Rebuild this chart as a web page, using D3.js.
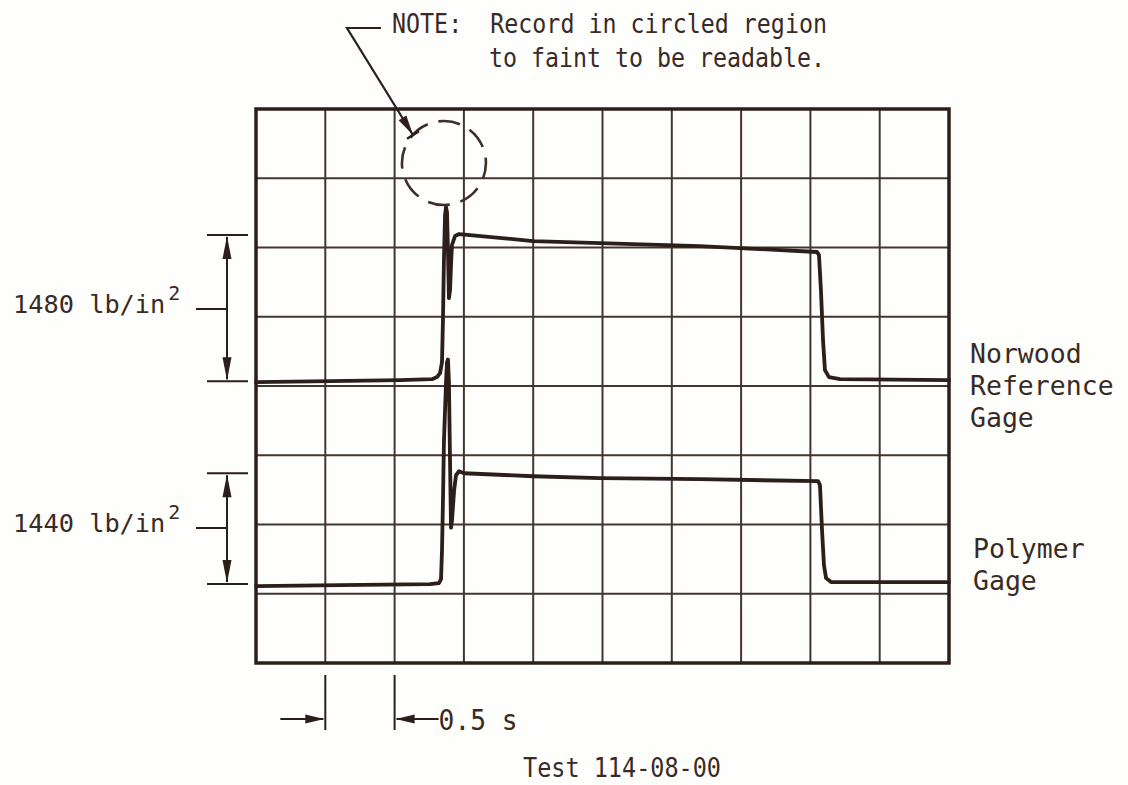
<!DOCTYPE html>
<html>
<head>
<meta charset="utf-8">
<script src="https://cdn.jsdelivr.net/npm/d3@7"></script>
<style>
  html, body { margin: 0; padding: 0; background: #fefefd; }
  svg { display: block; }
  text { font-family: "DejaVu Sans Mono", "Liberation Mono", monospace; fill: #3a2a24; }
</style>
</head>
<body>
<svg id="chart" width="1128" height="785"></svg>
<script>
// Time axis: 10 divisions of 0.5 s each
const timeTicks = [0, 0.5, 1.0, 1.5, 2.0, 2.5, 3.0, 3.5, 4.0, 4.5, 5.0];
// Vertical grid divisions
const gridRows = [0, 1, 2, 3, 4, 5, 6, 7, 8];

// Norwood reference gage record (time in s, pressure in lb/in^2)
const norwoodTime = [0.000, 0.534, 1.039, 1.270, 1.306, 1.328, 1.342, 1.349, 1.356, 1.364, 1.371, 1.378,
  1.385, 1.392, 1.400, 1.407, 1.414, 1.436, 1.465, 1.544, 1.999, 2.482, 3.203, 3.636, 4.048, 4.062,
  4.076, 4.091, 4.105, 4.134, 4.214, 5.000];
const norwoodPsi = [-10, 0, 10, 20, 41, 81, 193, 618, 1227, 1683, 1764, 1713,
  1328, 841, 922, 1176, 1379, 1470, 1490, 1480, 1419, 1399, 1368, 1338, 1308, 1277,
  922, 416, 112, 41, 20, 10];

// Polymer gage record (time in s, pressure in lb/in^2)
const polymerTime = [0.000, 0.606, 1.255, 1.320, 1.335, 1.342, 1.349, 1.356, 1.371, 1.378, 1.385,
  1.392, 1.400, 1.407, 1.414, 1.429, 1.443, 1.465, 1.501, 1.999, 2.482, 3.203, 4.055, 4.069, 4.084,
  4.098, 4.113, 4.149, 4.502, 5.000];
const polymerPsi = [-26, -13, 0, 13, 64, 437, 1080, 1851, 2623, 2880, 2919,
  2623, 1594, 733, 823, 1209, 1414, 1466, 1440, 1401, 1376, 1363, 1337, 1286, 694,
  244, 77, 26, 26, 26];

// Calibration steps marked on the left
const norwoodStep = 1480;
const polymerStep = 1440;
const stepUnit = "lb/in";

const svg = d3.select("#chart");
const ink = "#2c1e18";
const gridInk = "#45352e";

const x = d3.scaleLinear().domain([0, 5]).range([256, 949]);
const gy = d3.scaleLinear().domain([0, 8]).range([663, 109]);

// Each trace has its own zero line and sensitivity on the record
const yN = d3.scaleLinear().domain([0, norwoodStep]).range([gy(4.07), gy(6.18)]);
const yP = d3.scaleLinear().domain([0, polymerStep]).range([gy(1.14), gy(2.74)]);

// Grid
const grid = svg.append("g");
grid.selectAll("line.v").data(timeTicks.slice(1, -1)).join("line")
  .attr("x1", d => x(d)).attr("x2", d => x(d))
  .attr("y1", gy(0)).attr("y2", gy(8))
  .attr("stroke", gridInk).attr("stroke-width", 2);
grid.selectAll("line.h").data(gridRows.slice(1, -1)).join("line")
  .attr("x1", x(0)).attr("x2", x(5))
  .attr("y1", d => gy(d)).attr("y2", d => gy(d))
  .attr("stroke", gridInk).attr("stroke-width", 2);
grid.append("rect")
  .attr("x", x(0)).attr("y", gy(8))
  .attr("width", x(5) - x(0)).attr("height", gy(0) - gy(8))
  .attr("fill", "none").attr("stroke", ink).attr("stroke-width", 3.5);

// Traces
function drawTrace(times, vals, yScale) {
  const pts = times.map((t, i) => [t, vals[i]]);
  svg.append("path")
    .datum(pts)
    .attr("d", d3.line().x(d => x(d[0])).y(d => yScale(d[1])))
    .attr("fill", "none")
    .attr("stroke", ink)
    .attr("stroke-width", 3.8)
    .attr("stroke-linejoin", "round")
    .attr("stroke-linecap", "round");
}
drawTrace(norwoodTime, norwoodPsi, yN);
drawTrace(polymerTime, polymerPsi, yP);

// Dashed circle around the unreadable peak
const cx = x(1.356), cy = gy(7.22);
svg.append("circle")
  .attr("cx", cx).attr("cy", cy).attr("r", 42)
  .attr("fill", "none").attr("stroke", "#3e2f29")
  .attr("stroke-width", 2.6).attr("stroke-dasharray", "22 11")
  .attr("stroke-dashoffset", 6);

// Note leader with arrow
const tip = [413, 135];
const elbow = [347, 28];
svg.append("path")
  .attr("d", `M381,28 L${elbow[0]},${elbow[1]} L${tip[0]},${tip[1]}`)
  .attr("fill", "none").attr("stroke", ink).attr("stroke-width", 2.2);
{
  const dx = tip[0] - elbow[0], dy = tip[1] - elbow[1];
  const len = Math.hypot(dx, dy), ux = dx / len, uy = dy / len;
  const px = -uy, py = ux;
  const b = [tip[0] - ux * 20, tip[1] - uy * 20];
  svg.append("path")
    .attr("d", `M${tip[0]},${tip[1]} L${b[0] + px * 4.5},${b[1] + py * 4.5} L${b[0] - px * 4.5},${b[1] - py * 4.5} Z`)
    .attr("fill", ink);
  svg.append("line")
    .attr("x1", tip[0] + px * 7).attr("y1", tip[1] + py * 7)
    .attr("x2", tip[0] - px * 7).attr("y2", tip[1] - py * 7)
    .attr("stroke", ink).attr("stroke-width", 2.4);
}

svg.append("text").attr("x", 392).attr("y", 33).attr("font-size", 26)
  .attr("textLength", 435).attr("lengthAdjust", "spacingAndGlyphs")
  .attr("xml:space", "preserve").style("white-space", "pre")
  .text("NOTE:  Record in circled region");
svg.append("text").attr("x", 489).attr("y", 67).attr("font-size", 26)
  .attr("textLength", 336).attr("lengthAdjust", "spacingAndGlyphs")
  .text("to faint to be readable.");

// Vertical dimension arrow with end bars
function dimension(yTop, yBot, label, labelY) {
  const ax = 227;
  const g = svg.append("g");
  g.append("line").attr("x1", 207).attr("x2", 248).attr("y1", yTop).attr("y2", yTop)
    .attr("stroke", ink).attr("stroke-width", 2);
  g.append("line").attr("x1", 207).attr("x2", 248).attr("y1", yBot).attr("y2", yBot)
    .attr("stroke", ink).attr("stroke-width", 2);
  g.append("line").attr("x1", ax).attr("x2", ax).attr("y1", yTop + 2).attr("y2", yBot - 2)
    .attr("stroke", ink).attr("stroke-width", 2);
  g.append("path").attr("d", `M${ax},${yTop + 1} L${ax - 4.5},${yTop + 24} L${ax + 4.5},${yTop + 24} Z`).attr("fill", ink);
  g.append("path").attr("d", `M${ax},${yBot - 1} L${ax - 4.5},${yBot - 24} L${ax + 4.5},${yBot - 24} Z`).attr("fill", ink);
  const mid = labelY - 4;
  g.append("line").attr("x1", 196).attr("x2", ax).attr("y1", mid).attr("y2", mid)
    .attr("stroke", ink).attr("stroke-width", 2);
  const t = g.append("text").attr("x", 13).attr("y", labelY).attr("font-size", 25.3);
  t.append("tspan").text(`${label} ${stepUnit}`);
  t.append("tspan").attr("dx", 3).attr("dy", -13).attr("font-size", 20).text("2");
}
dimension(yN(norwoodStep), yN(0), norwoodStep, 313);
dimension(yP(polymerStep), yP(0), polymerStep, 532);

// Trace names
const rightLabels = [
  { lines: ["Norwood", "Reference", "Gage"], x: 970, y: 363 },
  { lines: ["Polymer", "Gage"], x: 973, y: 558 }
];
rightLabels.forEach(l => {
  l.lines.forEach((s, i) => {
    svg.append("text").attr("x", l.x).attr("y", l.y + i * 32)
      .attr("font-size", 26.5).text(s);
  });
});

// Time scale marker: one division = 0.5 s
{
  const x0 = x(timeTicks[1]), x1 = x(timeTicks[2]);
  const ay = 719;
  svg.append("line").attr("x1", x0).attr("x2", x0).attr("y1", 675).attr("y2", 730)
    .attr("stroke", ink).attr("stroke-width", 2);
  svg.append("line").attr("x1", x1).attr("x2", x1).attr("y1", 675).attr("y2", 730)
    .attr("stroke", ink).attr("stroke-width", 2);
  svg.append("line").attr("x1", x0 - 45).attr("x2", x0 - 2).attr("y1", ay).attr("y2", ay)
    .attr("stroke", ink).attr("stroke-width", 2);
  svg.append("path").attr("d", `M${x0 - 1},${ay} L${x0 - 20},${ay - 4.5} L${x0 - 20},${ay + 4.5} Z`).attr("fill", ink);
  svg.append("line").attr("x1", x1 + 2).attr("x2", x1 + 44).attr("y1", ay).attr("y2", ay)
    .attr("stroke", ink).attr("stroke-width", 2);
  svg.append("path").attr("d", `M${x1 + 1},${ay} L${x1 + 20},${ay - 4.5} L${x1 + 20},${ay + 4.5} Z`).attr("fill", ink);
  svg.append("text").attr("x", x1 + 44).attr("y", 730).attr("font-size", 29)
    .attr("textLength", 79).attr("lengthAdjust", "spacingAndGlyphs")
    .text(`${timeTicks[1]} s`);
}

svg.append("text").attr("x", 523).attr("y", 777).attr("font-size", 26)
  .attr("textLength", 198).attr("lengthAdjust", "spacingAndGlyphs")
  .text("Test 114-08-00");
</script>
</body>
</html>
